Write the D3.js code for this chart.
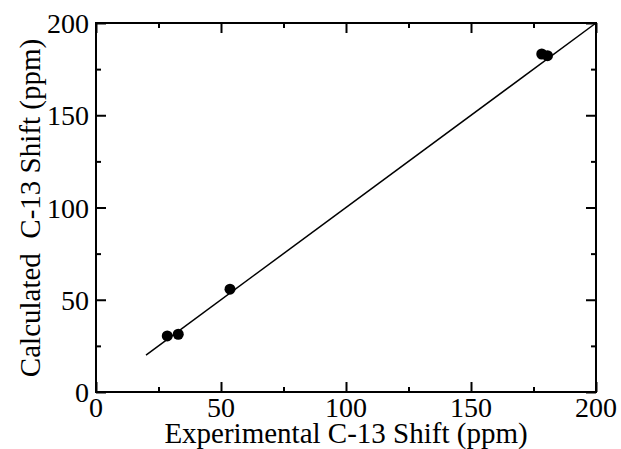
<!DOCTYPE html>
<html><head><meta charset="utf-8">
<script src="https://cdn.jsdelivr.net/npm/d3@7"></script>
<style>body{margin:0;background:#fff;} svg{display:block;}</style>
</head><body>
<svg id="c" width="621" height="449"></svg>
<script>
const expShift = [28.5, 32.9, 53.6, 178.3, 180.6];
const calcShift = [30.4, 31.3, 55.7, 183.2, 182.3];
const fitLine = [[20, 20], [200, 200]];
const majorTicks = [0, 50, 100, 150, 200];
const minorTicks = [25, 75, 125, 175];
const xTitle = "Experimental C-13 Shift (ppm)";
const yTitle = "Calculated\u00a0\u00a0C-13 Shift (ppm)";

const svg = d3.select("#c");
const m = {l: 96, r: 596, t: 23, b: 392};
const x = d3.scaleLinear().domain([0, 200]).range([m.l, m.r]);
const y = d3.scaleLinear().domain([0, 200]).range([m.b, m.t]);
const font = "'Liberation Serif','Times New Roman',serif";

// frame
svg.append("rect").attr("x", m.l).attr("y", m.t).attr("width", m.r - m.l).attr("height", m.b - m.t)
  .attr("fill", "none").attr("stroke", "#000").attr("stroke-width", 2);

function ticks(axisFn, vals, size) {
  return axisFn.tickValues(vals).tickSize(size).tickFormat("");
}
const gx = svg.append("g");
gx.append("g").attr("transform", `translate(0,${m.b})`).call(ticks(d3.axisTop(x), majorTicks, 10));
gx.append("g").attr("transform", `translate(0,${m.b})`).call(ticks(d3.axisTop(x), minorTicks, 5));
gx.append("g").attr("transform", `translate(0,${m.t})`).call(ticks(d3.axisBottom(x), majorTicks, 10));
gx.append("g").attr("transform", `translate(0,${m.t})`).call(ticks(d3.axisBottom(x), minorTicks, 5));
gx.append("g").attr("transform", `translate(${m.l},0)`).call(ticks(d3.axisRight(y), majorTicks, 10));
gx.append("g").attr("transform", `translate(${m.l},0)`).call(ticks(d3.axisRight(y), minorTicks, 5));
gx.append("g").attr("transform", `translate(${m.r},0)`).call(ticks(d3.axisLeft(y), majorTicks, 10));
gx.append("g").attr("transform", `translate(${m.r},0)`).call(ticks(d3.axisLeft(y), minorTicks, 5));
gx.selectAll(".domain").remove();
gx.selectAll(".tick line").attr("stroke", "#000").attr("stroke-width", 2);

// tick labels
svg.append("g").selectAll("text").data(majorTicks).join("text")
  .attr("x", d => x(d)).attr("y", m.b + 25).attr("text-anchor", "middle")
  .attr("font-family", font).attr("font-size", 28).text(d => d);
svg.append("g").selectAll("text").data(majorTicks).join("text")
  .attr("x", m.l - 7).attr("y", d => y(d) + 10).attr("text-anchor", "end")
  .attr("font-family", font).attr("font-size", 28).text(d => d);

// titles
svg.append("text").attr("x", 346).attr("y", 443).attr("text-anchor", "middle")
  .attr("font-family", font).attr("font-size", 29).text(xTitle);
svg.append("text").attr("transform", `translate(40,208) rotate(-90)`).attr("text-anchor", "middle")
  .attr("font-family", font).attr("font-size", 29).text(yTitle);

// line
svg.append("path").datum(fitLine).attr("d", d3.line().x(d => x(d[0])).y(d => y(d[1])))
  .attr("stroke", "#000").attr("stroke-width", 1.5).attr("fill", "none");

// points
svg.append("g").selectAll("circle").data(expShift.map((e, i) => [e, calcShift[i]])).join("circle")
  .attr("cx", d => x(d[0])).attr("cy", d => y(d[1])).attr("r", 5.5).attr("fill", "#000");
</script>
</body></html>
